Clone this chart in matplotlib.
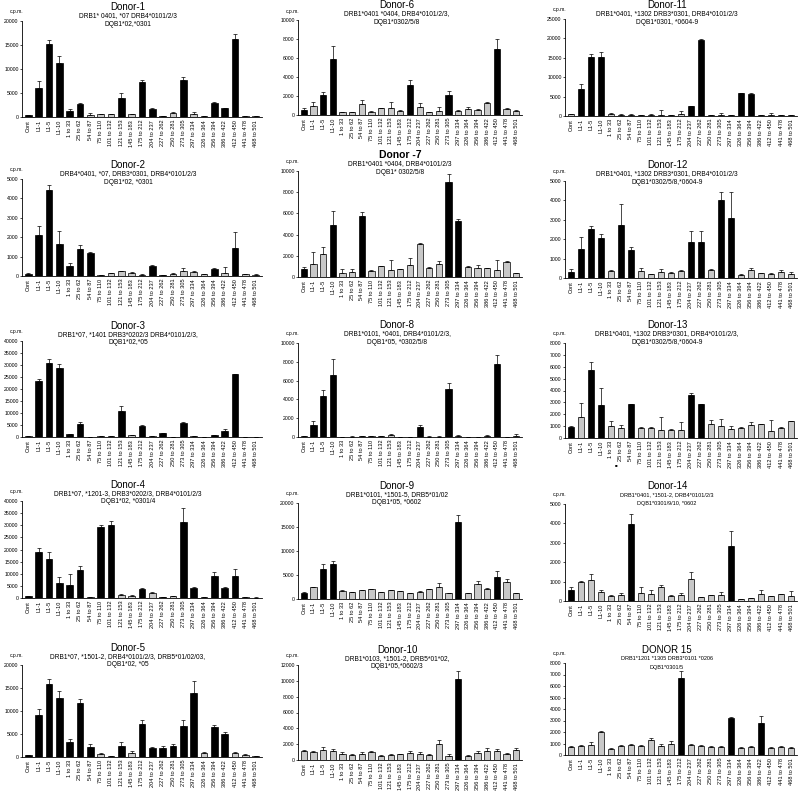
import numpy as np
import matplotlib
matplotlib.use("Agg")
import matplotlib.pyplot as plt

plt.rcParams['font.family'] = ['Liberation Sans', 'DejaVu Sans']

# peptide / control labels (same for every donor)
labels = ["Cont", "L1-1", "L1-5", "L1-10", "1 to 33", "25 to 62", "54 to 87", "75 to 110",
          "101 to 132", "121 to 153", "145 to 183", "175 to 212", "204 to 237", "227 to 262",
          "250 to 281", "273 to 305", "297 to 334", "326 to 364", "356 to 394", "386 to 422",
          "412 to 450", "441 to 478", "468 to 501"]

# values in thousands of c.p.m., err = SD (upper bar), pos = positive response (black bar)
d1_val = [0.4, 6.1, 15.3, 11.3, 1.2, 2.8, 0.5, 0.55, 0.55, 4.0, 0.55, 7.2, 1.7, 0.2, 0.75, 7.7, 0.7, 0.25, 2.9, 1.8, 16.2, 0.25, 0.15]
d1_err = [0.1, 1.3, 0.7, 1.4, 0.4, 0.2, 0.4, 0.05, 0.15, 1.0, 0.05, 0.6, 0.1, 0.05, 0.25, 0.7, 0.25, 0.05, 0.2, 0.05, 1.0, 0.05, 0.05]
d1_pos = [1, 1, 1, 1, 1, 1, 0, 0, 0, 1, 0, 1, 1, 1, 0, 1, 0, 0, 1, 1, 1, 0, 0]

d6_val = [0.55, 1.0, 2.15, 5.85, 0.3, 0.28, 1.15, 0.35, 0.7, 0.75, 0.45, 3.2, 0.85, 0.28, 0.45, 2.1, 0.45, 0.6, 0.55, 1.3, 6.95, 0.65, 0.45]
d6_err = [0.15, 0.4, 0.3, 1.4, 0.05, 0.04, 0.4, 0.05, 0.08, 0.6, 0.05, 0.45, 0.4, 0.04, 0.35, 0.4, 0.05, 0.2, 0.05, 0.05, 1.0, 0.05, 0.05]
d6_pos = [1, 0, 1, 1, 0, 0, 0, 0, 0, 0, 0, 1, 0, 0, 0, 1, 0, 0, 0, 0, 1, 0, 0]

d11_val = [0.5, 7.0, 15.2, 15.2, 0.45, 0.35, 0.35, 0.3, 0.35, 0.35, 0.25, 0.45, 2.6, 19.7, 0.3, 0.3, 0.3, 5.9, 5.6, 0.2, 0.2, 0.2, 0.2]
d11_err = [0.1, 1.3, 0.7, 1.3, 0.25, 0.25, 0.05, 0.05, 0.05, 1.15, 0.05, 0.75, 0.1, 0.1, 0.05, 0.5, 0.05, 0.1, 0.3, 0.05, 0.7, 0.03, 0.03]
d11_pos = [0, 1, 1, 1, 0, 0, 0, 0, 0, 0, 0, 0, 1, 1, 0, 0, 0, 1, 1, 0, 0, 0, 0]

d2_val = [0.1, 2.13, 4.43, 1.65, 0.53, 1.38, 1.2, 0.05, 0.14, 0.24, 0.14, 0.07, 0.52, 0.03, 0.12, 0.26, 0.19, 0.08, 0.35, 0.16, 1.44, 0.08, 0.07]
d2_err = [0.05, 0.47, 0.27, 0.65, 0.12, 0.24, 0.02, 0.01, 0.04, 0.03, 0.08, 0.05, 0.06, 0.01, 0.02, 0.17, 0.05, 0.01, 0.07, 0.28, 0.81, 0.04, 0.02]
d2_pos = [1, 1, 1, 1, 1, 1, 1, 0, 0, 0, 0, 0, 1, 1, 0, 0, 0, 0, 1, 0, 1, 0, 0]

d7_val = [0.8, 1.2, 2.15, 4.9, 0.35, 0.47, 5.8, 0.6, 1.0, 0.65, 0.72, 1.12, 3.15, 0.85, 1.22, 9.0, 5.3, 0.95, 0.85, 0.85, 0.65, 1.45, 0.38]
d7_err = [0.15, 1.2, 0.7, 1.3, 0.4, 0.28, 0.35, 0.05, 0.05, 1.0, 0.08, 0.68, 0.1, 0.05, 0.28, 0.7, 0.2, 0.05, 0.25, 0.02, 0.95, 0.03, 0.02]
d7_pos = [1, 0, 0, 1, 0, 0, 1, 0, 0, 0, 0, 0, 0, 0, 0, 1, 1, 0, 0, 0, 0, 0, 0]

d12_val = [0.3, 1.52, 2.53, 2.08, 0.35, 2.75, 1.46, 0.38, 0.19, 0.29, 0.27, 0.35, 1.87, 1.84, 0.4, 4.0, 3.1, 0.17, 0.4, 0.24, 0.22, 0.3, 0.22]
d12_err = [0.15, 0.58, 0.17, 0.2, 0.08, 1.05, 0.16, 0.12, 0.01, 0.16, 0.06, 0.05, 0.53, 0.56, 0.05, 0.45, 1.35, 0.05, 0.1, 0.02, 0.03, 0.12, 0.08]
d12_pos = [1, 1, 1, 1, 0, 1, 1, 0, 0, 0, 0, 0, 1, 1, 0, 1, 1, 0, 0, 0, 0, 0, 0]

d3_val = [0.4, 23.5, 31.0, 28.6, 1.25, 5.6, 0.1, 0.5, 0.4, 11.0, 0.7, 4.5, 0.5, 1.6, 0.1, 5.7, 0.4, 0.1, 0.7, 2.6, 26.1, 0.1, 0.1]
d3_err = [0.1, 0.8, 1.7, 1.7, 0.15, 0.7, 0.02, 0.1, 0.05, 2.0, 0.2, 0.5, 0.1, 0.2, 0.02, 0.7, 0.1, 0.02, 0.1, 0.9, 0.2, 0.02, 0.02]
d3_pos = [0, 1, 1, 1, 1, 1, 1, 0, 0, 1, 0, 1, 0, 1, 0, 1, 0, 0, 1, 1, 1, 0, 0]

d8_val = [0.07, 1.3, 4.4, 6.6, 0.03, 0.05, 0.1, 0.06, 0.08, 0.2, 0.03, 0.03, 1.05, 0.05, 0.05, 5.1, 0.15, 0.03, 0.03, 0.15, 7.8, 0.02, 0.15]
d8_err = [0.02, 0.45, 0.6, 1.75, 0.01, 0.01, 0.02, 0.01, 0.01, 0.1, 0.01, 0.01, 0.2, 0.01, 0.01, 0.65, 0.1, 0.01, 0.01, 0.05, 0.9, 0.01, 0.2]
d8_pos = [0, 1, 1, 1, 0, 0, 0, 0, 0, 0, 0, 0, 1, 0, 0, 1, 0, 0, 0, 0, 1, 0, 0]

d13_val = [0.9, 1.75, 5.7, 2.8, 1.03, 0.85, 2.85, 0.85, 0.82, 0.7, 0.7, 0.7, 3.65, 2.87, 1.2, 1.0, 0.78, 0.88, 1.1, 1.2, 0.55, 0.87, 1.4]
d13_err = [0.1, 1.2, 0.7, 1.4, 0.42, 0.25, 0.02, 0.05, 0.13, 1.05, 0.05, 0.65, 0.15, 0.03, 0.3, 0.6, 0.22, 0.07, 0.25, 0.02, 0.95, 0.05, 0.02]
d13_pos = [1, 0, 1, 1, 0, 0, 1, 0, 0, 0, 0, 0, 1, 1, 0, 0, 0, 0, 0, 0, 0, 0, 0]

d4_val = [0.7, 18.9, 16.1, 6.2, 5.2, 11.7, 0.4, 29.4, 29.9, 1.1, 0.8, 3.6, 1.9, 0.3, 0.8, 31.4, 4.3, 0.3, 9.2, 4.1, 9.2, 0.4, 0.2]
d4_err = [0.2, 1.6, 2.7, 2.4, 4.6, 1.3, 0.2, 0.8, 1.7, 0.5, 0.4, 0.7, 0.4, 0.05, 0.2, 5.6, 0.1, 0.05, 1.7, 0.3, 2.6, 0.1, 0.05]
d4_pos = [1, 1, 1, 1, 1, 1, 0, 1, 1, 0, 0, 1, 0, 1, 0, 1, 1, 0, 1, 1, 1, 0, 0]

d9_val = [1.35, 2.4, 6.35, 7.2, 1.6, 1.4, 1.85, 2.0, 1.4, 1.8, 1.7, 1.2, 1.5, 2.0, 2.45, 1.2, 16.0, 1.3, 3.1, 2.1, 4.65, 3.6, 1.2]
d9_err = [0.2, 0.15, 0.85, 0.75, 0.25, 0.1, 0.05, 0.15, 0.05, 0.1, 0.05, 0.03, 0.15, 0.1, 0.8, 0.1, 1.6, 0.05, 0.7, 0.25, 1.2, 0.6, 0.05]
d9_pos = [1, 0, 1, 1, 0, 0, 0, 0, 0, 0, 0, 0, 0, 0, 0, 0, 1, 0, 0, 0, 1, 0, 0]

d14_val = [0.58, 0.98, 1.07, 0.47, 0.27, 0.33, 3.98, 0.4, 0.36, 0.7, 0.26, 0.32, 1.15, 0.2, 0.3, 0.3, 2.82, 0.1, 0.16, 0.36, 0.24, 0.36, 0.28]
d14_err = [0.14, 0.07, 0.33, 0.08, 0.03, 0.09, 0.52, 0.3, 0.19, 0.1, 0.05, 0.08, 0.35, 0.02, 0.03, 0.17, 0.78, 0.01, 0.02, 0.19, 0.01, 0.02, 0.24]
d14_pos = [1, 0, 0, 0, 0, 0, 1, 0, 0, 0, 0, 0, 0, 0, 0, 0, 1, 0, 0, 0, 0, 0, 0]

d5_val = [0.4, 9.2, 15.8, 12.8, 3.2, 11.8, 2.2, 0.7, 0.2, 2.5, 0.8, 7.2, 1.9, 2.0, 2.4, 6.8, 14.0, 0.9, 6.6, 5.0, 0.8, 0.5, 0.2]
d5_err = [0.1, 1.3, 1.2, 1.5, 0.8, 0.8, 0.6, 0.1, 0.05, 0.7, 0.5, 0.8, 0.2, 0.3, 0.4, 1.2, 2.5, 0.2, 0.4, 0.4, 0.2, 0.1, 0.05]
d5_pos = [1, 1, 1, 1, 1, 1, 1, 0, 0, 1, 0, 1, 1, 1, 1, 1, 1, 0, 1, 1, 0, 0, 0]

d10_val = [1.1, 1.0, 1.3, 1.2, 0.8, 0.6, 0.8, 1.0, 0.5, 0.6, 0.7, 0.9, 0.8, 0.6, 2.0, 0.5, 10.2, 0.5, 0.9, 1.2, 1.1, 0.7, 1.3]
d10_err = [0.2, 0.2, 0.3, 0.2, 0.2, 0.2, 0.2, 0.2, 0.1, 0.1, 0.1, 0.2, 0.2, 0.1, 0.5, 0.2, 1.0, 0.1, 0.2, 0.3, 0.3, 0.2, 0.2]
d10_pos = [0, 0, 0, 0, 0, 0, 0, 0, 0, 0, 0, 0, 0, 0, 0, 0, 1, 0, 0, 0, 0, 0, 0]

d15_val = [0.7, 0.8, 0.9, 2.0, 0.5, 0.8, 0.9, 0.8, 1.3, 0.8, 1.0, 6.7, 0.9, 0.8, 0.7, 0.7, 3.2, 0.6, 0.7, 2.8, 0.6, 0.7, 0.6]
d15_err = [0.1, 0.1, 0.2, 0.1, 0.1, 0.1, 0.1, 0.1, 0.2, 0.2, 0.2, 0.6, 0.1, 0.1, 0.1, 0.1, 0.1, 0.1, 0.1, 0.6, 0.1, 0.1, 0.1]
d15_pos = [0, 0, 0, 0, 0, 0, 0, 0, 0, 0, 0, 1, 0, 0, 0, 0, 1, 0, 0, 1, 0, 0, 0]

W, H = 800, 797
fig = plt.figure(figsize=(W / 100, H / 100), dpi=100)


def px_rect(l, t, r, b):
    return [l / W, 1 - b / H, (r - l) / W, (b - t) / H]


def panel(rect, val, err, pos, ymax, step, title, sub1, sub2, ty, tx,
          tsize=7.0, tweight='normal', ssize=4.8):
    ax = fig.add_axes(px_rect(*rect))
    x = np.arange(len(labels))
    v = np.array(val) * 1000
    e = np.array(err) * 1000
    cols = ['black' if p else '#c8c8c8' for p in pos]
    ax.bar(x, v, width=0.65, color=cols, edgecolor='black', linewidth=0.5)
    ax.errorbar(x, v, yerr=[np.zeros_like(e), e], fmt='none', ecolor='black',
                elinewidth=0.5, capsize=1.2, capthick=0.5)
    ax.set_xlim(-0.6, len(labels) - 0.4)
    ax.set_ylim(0, ymax)
    ax.set_yticks(np.arange(0, ymax + 1, step))
    ax.set_xticks(x)
    ax.set_xticklabels(labels, rotation=90, fontsize=4.1)
    ax.tick_params(axis='x', length=0, pad=2)
    ax.tick_params(axis='y', length=1.5, width=0.5, labelsize=3.7, pad=1)
    for s in ['top', 'right']:
        ax.spines[s].set_visible(False)
    for s in ['left', 'bottom']:
        ax.spines[s].set_linewidth(0.6)
    # titles
    fig.text(tx / W, 1 - ty / H, title, ha='center', va='center',
             fontsize=tsize, fontweight=tweight)
    fig.text(tx / W, 1 - (ty + 8.5) / H, sub1, ha='center', va='center', fontsize=ssize)
    fig.text(tx / W, 1 - (ty + 17) / H, sub2, ha='center', va='center', fontsize=ssize)
    fig.text((rect[0] - 12) / W, 1 - (rect[1] - 9) / H, "c.p.m.", ha='left',
             va='center', fontsize=3.6)
    return ax


panel((22, 21, 262, 117), d1_val, d1_err, d1_pos, 20000, 5000, "Donor-1",
      "DRB1* 0401, *07 DRB4*0101/2/3", "DQB1*02,*0301", 7, 128)
panel((298, 20, 522, 115), d6_val, d6_err, d6_pos, 10000, 2000, "Donor-6",
      "DRB1*0401 *0404, DRB4*0101/2/3,", "DQB1*0302/5/8", 5, 397)
panel((565, 19, 797, 116), d11_val, d11_err, d11_pos, 25000, 5000, "Donor-11",
      "DRB1*0401, *1302 DRB3*0301, DRB4*0101/2/3", "DQB1*0301, *0604-9", 5, 667)

panel((22, 179, 262, 276), d2_val, d2_err, d2_pos, 5000, 1000, "Donor-2",
      "DRB4*0401, *07, DRB3*0301, DRB4*0101/2/3", "DQB1*02, *0301", 165, 128)
panel((298, 171, 522, 277), d7_val, d7_err, d7_pos, 10000, 2000, "Donor -7",
      "DRB1*0401 *0404, DRB4*0101/2/3", "DQB1* 0302/5/8", 155, 400,
      tsize=7.5, tweight='bold')
panel((565, 181, 797, 278), d12_val, d12_err, d12_pos, 5000, 1000, "Donor-12",
      "DRB1*0401, *1302 DRB3*0301, DRB4*0101/2/3", "DQB1*0302/5/8,*0604-9", 165, 667)

panel((22, 341, 262, 437), d3_val, d3_err, d3_pos, 40000, 5000, "Donor-3",
      "DRB1*07, *1401 DRB3*0202/3 DRB4*0101/2/3,", "DQB1*02,*05", 326, 128)
panel((298, 343, 522, 437), d8_val, d8_err, d8_pos, 10000, 2000, "Donor-8",
      "DRB1*0101, *0401, DRB4*0101/2/3,", "DQB1*05, *0302/5/8", 325, 397)
ax13 = panel((565, 343, 797, 438), d13_val, d13_err, d13_pos, 8000, 1000, "Donor-13",
             "DRB1*0401, *1302 DRB3*0301, DRB4*0101/2/3,", "DQB1*0302/5/8,*0604-9", 325, 667)
ax13.text(4.55, -0.29, "\u25a0", transform=ax13.get_xaxis_transform(), fontsize=3.2,
          ha='center', va='center')

panel((22, 501, 262, 598), d4_val, d4_err, d4_pos, 40000, 5000, "Donor-4",
      "DRB1*07, *1201-3, DRB3*0202/3, DRB4*0101/2/3", "DQB1*02, *0301/4", 485, 128)
panel((298, 503, 522, 599), d9_val, d9_err, d9_pos, 20000, 5000, "Donor-9",
      "DRB1*0101, *1501-5, DRB5*01/02", "DQB1*05, *0602", 486, 397)
panel((565, 504, 797, 601), d14_val, d14_err, d14_pos, 5000, 1000, "Donor-14",
      "DRB1*0401, *1501-2, DRB4*0101/2/3", "DQB1*0301/9/10, *0602", 486, 667, ssize=4.0)

panel((22, 665, 262, 757), d5_val, d5_err, d5_pos, 20000, 5000, "Donor-5",
      "DRB1*07, *1501-2, DRB4*0101/2/3, DRB5*01/02/03,", "DQB1*02, *05", 648, 128)
panel((298, 665, 522, 760), d10_val, d10_err, d10_pos, 12000, 2000, "Donor-10",
      "DRB1*0103, *1501-2, DRB5*01*02,", "DQB1*05,*0602/3", 650, 397)
panel((565, 663, 797, 755), d15_val, d15_err, d15_pos, 8000, 1000, "DONOR 15",
      "DRB1*1201 *1305 DRB3*0101 *0206", "DQB1*0301/5", 650, 667, ssize=4.0)

fig.savefig("out.png", dpi=100)
